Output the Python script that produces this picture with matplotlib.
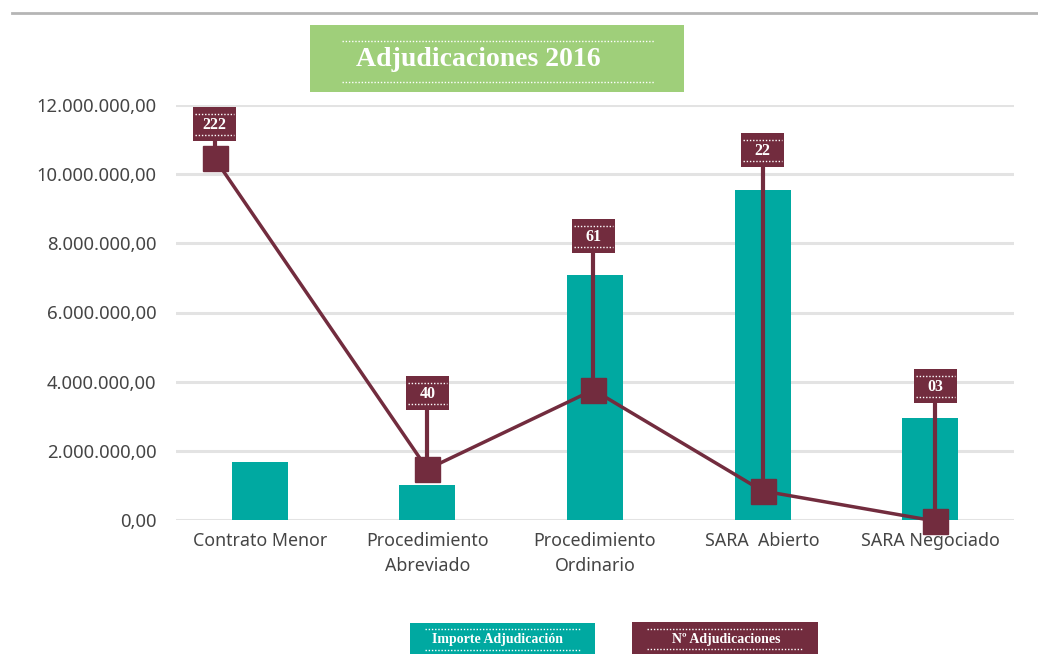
import matplotlib
matplotlib.use("Agg")
import matplotlib.pyplot as plt
from matplotlib.patches import Rectangle
from matplotlib.lines import Line2D

# ---- data ----
categories = ["Contrato Menor", "Procedimiento\nAbreviado", "Procedimiento\nOrdinario",
              "SARA  Abierto", "SARA Negociado"]
importe = [1680000, 1010000, 7080000, 9540000, 2950000]          # bars (Importe Adjudicación)
n_adj_labels = ["222", "40", "61", "22", "03"]                     # Nº Adjudicaciones labels
n_adj_line = [10460000, 1470000, 3760000, 840000, -30000]           # marker heights as drawn
yticks = [0, 2000000, 4000000, 6000000, 8000000, 10000000, 12000000]
ytick_labels = ["0,00", "2.000.000,00", "4.000.000,00", "6.000.000,00",
                "8.000.000,00", "10.000.000,00", "12.000.000,00"]

# layout of the line and its label boxes (category units / value units)
line_x_shift = [-0.27, 0.0, -0.01, 0.0, 0.03]
label_box_y = [11450000, 3670000, 8210000, 10690000, 3870000]

TEAL = "#00a9a1"
MAROON = "#722c3e"
GREEN = "#9fcf7a"
TXT = "#454545"
SERIF = "Liberation Serif"

W, H = 1038, 654
fig = plt.figure(figsize=(W / 100, H / 100), dpi=100)
fig.patch.set_facecolor("white")
ax = fig.add_axes([176 / W, 1 - 520 / H, (1014 - 176) / W, (520 - 105) / H])
ax.set_facecolor("none")

x = list(range(len(categories)))
ax.bar(x, importe, width=0.335, color=TEAL, zorder=2)
ax.set_xlim(-0.5, len(categories) - 0.5)
ax.set_ylim(0, 12000000)
ax.set_yticks(yticks)
ax.set_yticklabels(ytick_labels)
ax.set_xticks(x)
ax.set_xticklabels(categories)
for s in ax.spines.values():
    s.set_visible(False)
ax.tick_params(axis="both", length=0, colors=TXT)
ax.tick_params(axis="y", pad=14, labelsize=13.3)
ax.tick_params(axis="x", pad=9, labelsize=12.8)
for lab in ax.get_xticklabels() + ax.get_yticklabels():
    lab.set_fontfamily("Noto Sans")
    lab.set_color(TXT)
for lab in ax.get_xticklabels():
    lab.set_linespacing(1.45)
ax.yaxis.grid(True, color="#e3e3e3", linewidth=2.2, zorder=0)
ax.set_axisbelow(True)

lx = [xi + d for xi, d in zip(x, line_x_shift)]
ax.plot(lx, n_adj_line, color=MAROON, linewidth=2.5, zorder=4, clip_on=False)
for xi, yv, by in zip(lx, n_adj_line, label_box_y):
    ax.plot([xi, xi], [yv, by], color=MAROON, linewidth=3, zorder=4, clip_on=False)
ax.plot(lx, n_adj_line, linestyle="none", marker="s", markersize=18,
        color=MAROON, zorder=5, clip_on=False)


def fx(px):
    return px / W


def fy(py):
    return 1 - py / H


def dotted(x0, x1, y, lw=1.0):
    fig.add_artist(Line2D([fx(x0), fx(x1)], [fy(y), fy(y)], transform=fig.transFigure,
                          color="white", linewidth=lw, linestyle=(0, (1, 1.3)), zorder=11))


def pxbox(x0, y0, x1, y1, color, text, fs, dot_top, dot_bot, dx0, dx1, ty=None, tx=None):
    fig.add_artist(Rectangle((fx(x0), fy(y1)), fx(x1) - fx(x0), fy(y0) - fy(y1),
                             transform=fig.transFigure, facecolor=color,
                             edgecolor="none", zorder=10))
    dotted(dx0, dx1, dot_top)
    dotted(dx0, dx1, dot_bot)
    cy = (y0 + y1) / 2 if ty is None else ty
    cx = (x0 + x1) / 2 if tx is None else tx
    fig.text(fx(cx), fy(cy), text, ha="center", va="center", color="white",
             fontsize=fs, fontweight="bold", family=SERIF, zorder=12)


# top gray rule
fig.add_artist(Line2D([fx(12), fx(1038)], [fy(13), fy(13)], transform=fig.transFigure,
                      color="#b5b5b5", linewidth=2))

# title box
pxbox(310, 25, 684, 92, GREEN, "Adjudicaciones 2016", 20, 41, 82, 342, 654, ty=60, tx=478)

# label boxes
fig.canvas.draw()
for xi, by, txt in zip(lx, label_box_y, n_adj_labels):
    dxp, dyp = ax.transData.transform((xi, by))
    cxp = dxp
    cyp = H - dyp
    x0, x1 = cxp - 21.5, cxp + 21.5
    y0, y1 = cyp - 17, cyp + 17
    pxbox(x0, y0, x1, y1, MAROON, txt, 11.5, y0 + 7, y1 - 6, x0 + 2, x1 - 2, ty=cyp + 1)

# legend boxes
pxbox(410, 623, 595, 660, TEAL, "Importe Adjudicación", 10, 629, 650, 425, 580, ty=640, tx=497)
pxbox(632, 622, 818, 660, MAROON, "Nº Adjudicaciones", 10, 629, 649, 647, 803, ty=639, tx=726)

fig.savefig("out.png", dpi=100, facecolor="white")
